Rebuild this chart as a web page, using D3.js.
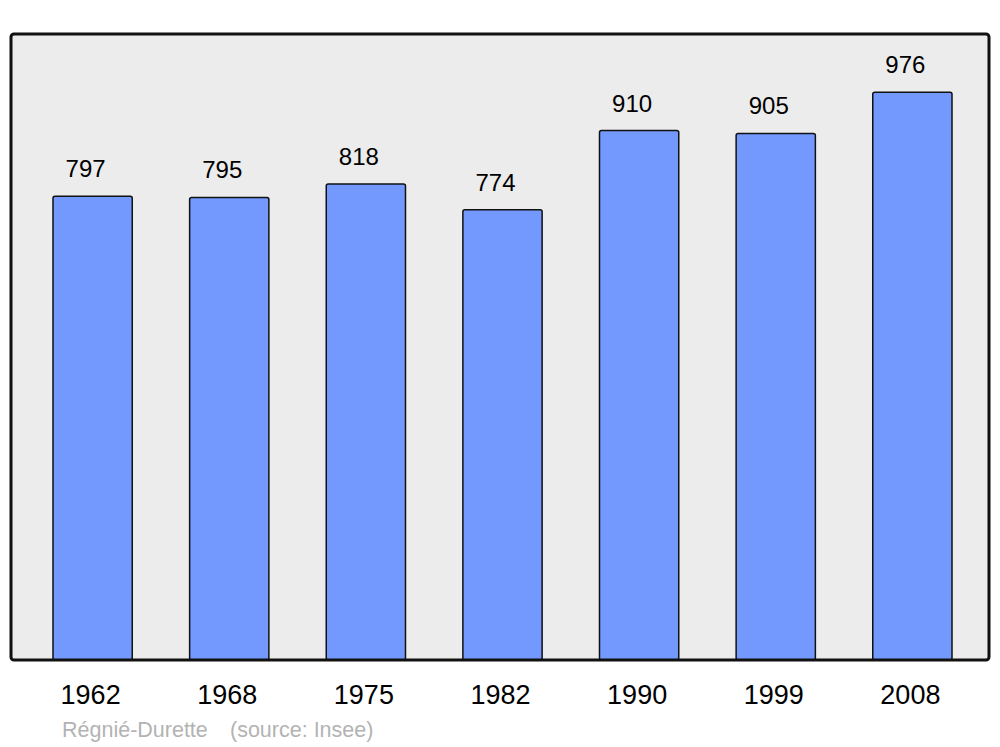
<!DOCTYPE html>
<html>
<head>
<meta charset="utf-8">
<script src="https://cdn.jsdelivr.net/npm/d3@7"></script>
<style>
  html, body { margin: 0; padding: 0; background: #ffffff; }
  svg { display: block; font-family: "Liberation Sans", Arial, sans-serif; }
</style>
</head>
<body>
<script>
const years = ["1962", "1968", "1975", "1982", "1990", "1999", "2008"];
const populations = [797, 795, 818, 774, 910, 905, 976];
const sourceLabel = "Régnié-Durette";
const sourceNote = "(source: Insee)";

const W = 1000, H = 747;
const panel = { x0: 11, y0: 34, x1: 989, y1: 660 };

const svg = d3.select("body").append("svg")
  .attr("width", W).attr("height", H);

svg.append("rect")
  .attr("x", panel.x0).attr("y", panel.y0)
  .attr("width", panel.x1 - panel.x0).attr("height", panel.y1 - panel.y0)
  .attr("rx", 3).attr("ry", 3)
  .attr("fill", "#ececec");

const x = d3.scaleBand()
  .domain(years)
  .range([53, 952])
  .paddingInner(0.42)
  .paddingOuter(0);

const y = d3.scaleLinear()
  .domain([0, 1076])
  .range([panel.y1, panel.y0]);

const data = years.map((yr, i) => ({ year: yr, value: populations[i] }));

svg.append("g").selectAll("rect")
  .data(data)
  .join("rect")
  .attr("x", d => x(d.year))
  .attr("y", d => y(d.value))
  .attr("width", x.bandwidth())
  .attr("height", d => y(0) - y(d.value))
  .attr("rx", 2).attr("ry", 2)
  .attr("fill", "#7399ff")
  .attr("stroke", "#111")
  .attr("stroke-width", 1.5);

svg.append("g").selectAll("text")
  .data(data)
  .join("text")
  .attr("x", d => x(d.year) + x.bandwidth() / 2 - 7)
  .attr("y", d => y(d.value) - 19)
  .attr("text-anchor", "middle")
  .attr("font-size", 24)
  .attr("fill", "#000")
  .text(d => d.value);

// panel outline on top of bars
svg.append("rect")
  .attr("x", panel.x0).attr("y", panel.y0)
  .attr("width", panel.x1 - panel.x0).attr("height", panel.y1 - panel.y0)
  .attr("rx", 3).attr("ry", 3)
  .attr("fill", "none")
  .attr("stroke", "#111").attr("stroke-width", 3);

const xAxis = d3.axisBottom(x).tickSize(0).tickPadding(0);
const gx = svg.append("g")
  .attr("transform", `translate(-2, 704)`)
  .call(xAxis);
gx.select(".domain").remove();
gx.selectAll("text")
  .attr("dy", 0)
  .attr("y", 0)
  .attr("font-size", 27)
  .attr("font-family", "Liberation Sans, Arial, sans-serif")
  .attr("fill", "#000");

svg.append("text")
  .attr("x", 62).attr("y", 737)
  .attr("font-size", 21.5)
  .attr("fill", "#b3b3b3")
  .text(sourceLabel);
svg.append("text")
  .attr("x", 230).attr("y", 737)
  .attr("font-size", 21.5)
  .attr("fill", "#b3b3b3")
  .text(sourceNote);
</script>
</body>
</html>
